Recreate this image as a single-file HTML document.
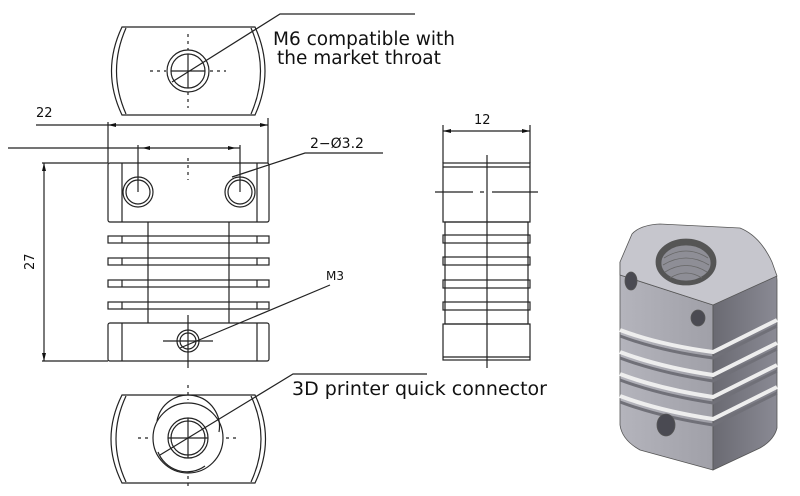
<!DOCTYPE html>
<html><head><meta charset="utf-8"><style>
html,body{margin:0;padding:0;background:#fff;}
svg{display:block}
text{font-family:"DejaVu Sans","Liberation Sans",sans-serif;fill:#111}
</style></head><body>
<svg width="800" height="496" viewBox="0 0 800 496" xmlns="http://www.w3.org/2000/svg">
<defs>
<linearGradient id="fr" x1="0" x2="1"><stop offset="0" stop-color="#b4b4bc"/><stop offset="1" stop-color="#a0a0a8"/></linearGradient>
<linearGradient id="sd" x1="0" x2="1"><stop offset="0" stop-color="#6a6a72"/><stop offset="1" stop-color="#8a8a94"/></linearGradient>
</defs>
<g fill="none" stroke="#222" stroke-width="1.2">
<path d="M122 27 H255 Q275 71 255 115 H122 Q101 71 122 27 Z"/>
<path d="M126 28 Q107 71 126 114 M251 28 Q270 71 251 114"/>
<circle cx="188" cy="71" r="21"/><circle cx="188" cy="71" r="17"/>
<path d="M188 54 V88 M171 71 H205" />
<path d="M188 34 V50 M188 92 V108 M150 71 H166 M210 71 H226" stroke-dasharray="3 4"/>
<path d="M172 82 L280 14 H415"/>
<path d="M36 125 H268 M108 122 V163 M268 118 V163"/>
<path d="M8 148 H240 M138 145 V192 M240 145 V192"/>
<path d="M42 163 H108 M42 361 H108 M44 163 V361"/>
<rect x="108" y="163" width="161" height="59" rx="2"/>
<path d="M122 163 V222 M257 163 V222"/>
<path d="M188 158 V180" stroke-dasharray="3 4"/>
<circle cx="138" cy="192" r="15"/><circle cx="138" cy="192" r="12"/>
<circle cx="240" cy="192" r="15"/><circle cx="240" cy="192" r="12"/>
<path d="M148 222 V323 M229 222 V323"/>
<rect x="108" y="236" width="161" height="7"/><rect x="108" y="258" width="161" height="7"/>
<rect x="108" y="280" width="161" height="7"/><rect x="108" y="302" width="161" height="7"/>
<path d="M122 236 V243 M257 236 V243 M122 258 V265 M257 258 V265 M122 280 V287 M257 280 V287 M122 302 V309 M257 302 V309"/>
<rect x="108" y="323" width="161" height="38" rx="2"/>
<path d="M122 323 V361 M257 323 V361"/>
<circle cx="188" cy="341" r="11"/><circle cx="188" cy="341" r="8"/>
<path d="M163 341 H213 M188 315 V368"/>
<path d="M232 177 L305 153 H383"/>
<path d="M180 348 L330 285"/>
<path d="M443 131 H530 M443 125 V163 M530 125 V163"/>
<rect x="443" y="163" width="87" height="59"/><path d="M443 167 H530"/>
<path d="M487 155 V368"/>
<path d="M435 192 H473 M480 192 H484 M492 192 H538" />
<rect x="445" y="222" width="83" height="102"/>
<rect x="443" y="235" width="87" height="8"/><rect x="443" y="257" width="87" height="8"/>
<rect x="443" y="280" width="87" height="8"/><rect x="443" y="302" width="87" height="8"/>
<rect x="443" y="324" width="87" height="36"/><path d="M443 357 H530"/>
<path d="M122 395 H255 Q276 439 255 483 H122 Q100 439 122 395 Z"/>
<path d="M126 396 Q106 439 126 482 M251 396 Q271 439 251 482"/>
<circle cx="188" cy="438" r="35"/><path d="M157 421 A31 31 0 0 1 219 432" /><path d="M158 452 A31 31 0 0 0 205 466"/>
<circle cx="188" cy="438" r="20"/><circle cx="188" cy="438" r="17"/>
<path d="M188 418 V458 M168 438 H208"/>
<path d="M188 385 V400 M188 476 V490 M138 438 H150 M226 438 H240" stroke-dasharray="3 4"/>
<path d="M160 455 L293 374 H427"/>
</g>
<g fill="#111">
<path d="M108 125 l8 -2 v4 z M268 125 l-8 -2 v4 z M142 148 l8 -2 v4z M236 148 l-8 -2 v4z M44 163 l-2 8 h4z M44 361 l-2 -8 h4z M443 131 l8 -2 v4z M530 131 l-8 -2 v4z"/>
</g>
<text x="36" y="117" font-size="13">22</text>
<text x="34" y="270" font-size="13" transform="rotate(-90 34 270)">27</text>
<text x="310" y="148" font-size="14">2−Ø3.2</text>
<text x="474" y="124" font-size="13">12</text>
<text x="326" y="280" font-size="12">M3</text>
<text x="273" y="45" font-size="18.5">M6 compatible with</text>
<text x="277" y="64" font-size="18.5">the market throat</text>
<text x="292" y="395" font-size="19">3D printer quick connector</text>
<!-- 3D view -->
<g stroke="#555" stroke-width="0.8">
<path d="M620 262 L620 425 Q622 440 640 450 L713 470 L713 305 L620 275 Z" fill="url(#fr)"/>
<path d="M713 305 L772 268 Q777 272 777 280 L777 428 Q774 440 760 448 L713 470 Z" fill="url(#sd)"/>
<path d="M620 262 L632 234 Q640 225 660 224 L740 228 Q760 236 772 262 L777 276 L713 305 L620 275 Z" fill="#c6c6cd"/>
<ellipse cx="686" cy="262" rx="30" ry="23" fill="#555"/>
<ellipse cx="686" cy="263" rx="25" ry="18" fill="#8e8e96"/>
<path d="M664 258 Q686 244 708 258 M663 265 Q686 251 709 265 M665 272 Q686 259 707 272 M670 278 Q686 268 702 278" fill="none" stroke="#666"/>
<ellipse cx="631" cy="281" rx="6" ry="9" fill="#4a4a52"/>
<ellipse cx="698" cy="318" rx="7" ry="8" fill="#4a4a52"/>
<path d="M620 330 Q660 345 713 352 L777 320 M620 352 Q660 367 713 375 L777 343 M620 374 Q660 389 713 397 L777 365 M620 396 Q660 411 713 419 L777 387" fill="none" stroke="#eee" stroke-width="4"/>
<path d="M620 336 Q660 351 713 358 L777 326 M620 358 Q660 373 713 381 L777 349 M620 380 Q660 395 713 403 L777 371 M620 402 Q660 417 713 425 L777 393" fill="none" stroke="#707078" stroke-width="3"/>
<ellipse cx="666" cy="425" rx="9" ry="11" fill="#4a4a52"/>
</g>
</svg>
</body></html>
